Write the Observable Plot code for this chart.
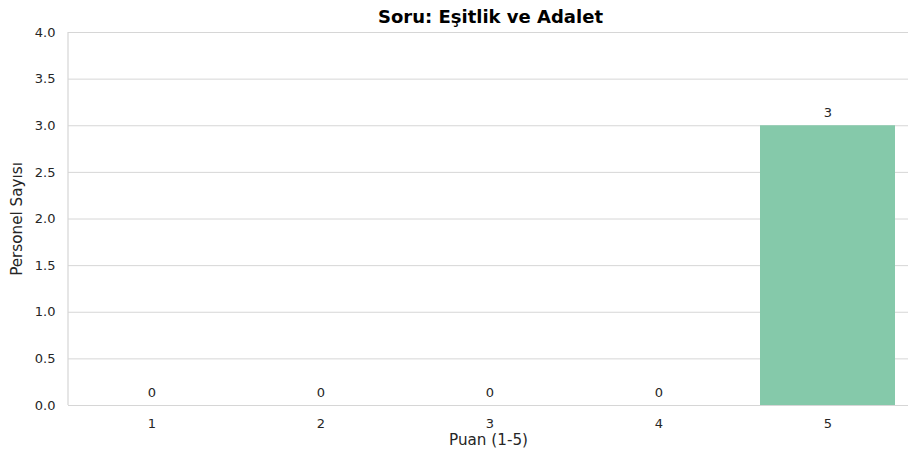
<!DOCTYPE html>
<html>
<head>
<meta charset="utf-8">
<script src="https://cdn.jsdelivr.net/npm/d3@7"></script>
<script src="https://cdn.jsdelivr.net/npm/@observablehq/plot@0.6"></script>
<style>
  body { margin: 0; background: #fff; }
</style>
</head>
<body>
<div id="wrap"></div>
<script>
const title = "Soru: Eşitlik ve Adalet";
const categories = ["1", "2", "3", "4", "5"];
const counts = [0, 0, 0, 0, 3];
const yTicks = [0, 0.5, 1, 1.5, 2, 2.5, 3, 3.5, 4];
const xLabel = "Puan (1-5)";
const yLabel = "Personel Sayısı";

const data = categories.map((c, i) => ({ puan: c, count: counts[i] }));

const leftSpine = (index, scales, values, dims) => {
  const line = document.createElementNS("http://www.w3.org/2000/svg", "line");
  line.setAttribute("x1", dims.marginLeft);
  line.setAttribute("x2", dims.marginLeft);
  line.setAttribute("y1", dims.marginTop);
  line.setAttribute("y2", dims.height - dims.marginBottom);
  line.setAttribute("stroke", "#d6d6d6");
  line.setAttribute("stroke-width", 1.2);
  return line;
};

const chart = Plot.plot({
  width: 908,
  height: 457,
  marginTop: 32,
  marginBottom: 52,
  marginLeft: 68,
  marginRight: 0,
  style: { fontFamily: "DejaVu Sans, sans-serif", fontSize: "13px", color: "#262626", background: "#fff" },
  x: { domain: categories, range: [67.5, 912.5], paddingInner: 0.2, paddingOuter: 0.1, label: null },
  y: { domain: [0, 4], label: null },
  marks: [
    Plot.gridY(yTicks, { stroke: "#d6d6d6", strokeOpacity: 1, strokeWidth: 1 }),
    Plot.barY(data, { x: "puan", y: "count", fill: "#85c9aa" }),
    leftSpine,
    Plot.ruleY([0], { stroke: "#d6d6d6", strokeWidth: 1.2 }),
    Plot.axisY(yTicks, { tickSize: 0, tickPadding: 13, tickFormat: d3.format(".1f"), label: null, fontSize: 13, fill: "#262626" }),
    Plot.axisX({ tickSize: 0, tickPadding: 13, label: null, fontSize: 13, fill: "#262626" }),
    Plot.text(data, { x: "puan", y: "count", text: d => String(d.count), dy: -13, fontSize: 13, fill: "#262626" }),
    Plot.text([xLabel], { frameAnchor: "bottom", text: d => d, lineAnchor: "middle", dy: 35, fontSize: 15.2, fill: "#262626" }),
    Plot.text([yLabel], { frameAnchor: "left", text: d => d, textAnchor: "middle", lineAnchor: "middle", rotate: -90, dx: -51, fontSize: 15.2, fill: "#262626" }),
    Plot.text([title], { frameAnchor: "top", text: d => d, lineAnchor: "middle", dx: 2, dy: -15, fontSize: 18, fontWeight: "bold", fill: "#000" })
  ]
});
document.getElementById("wrap").appendChild(chart);
</script>
</body>
</html>
